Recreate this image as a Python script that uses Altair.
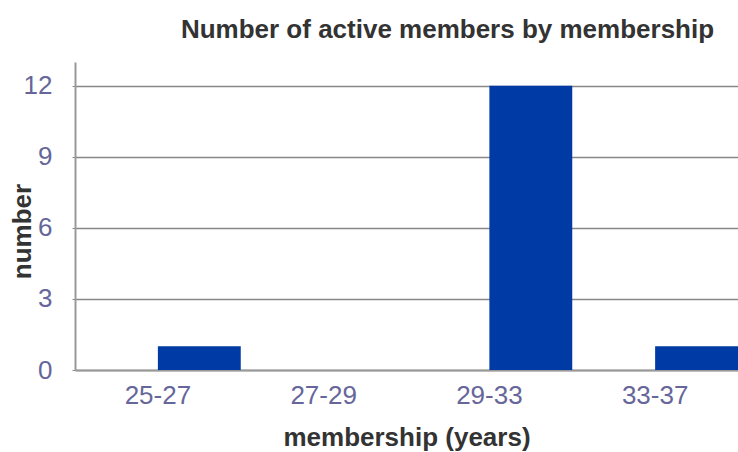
import altair as alt
import pandas as pd

categories = ["25-27", "27-29", "29-33", "33-37"]
counts = [1, 0, 12, 1]
y_ticks = [0, 3, 6, 9, 12]

df = pd.DataFrame({
    "membership": categories,
    "number": counts,
    "series": ["count"] * len(categories),
})

FONT = "Liberation Sans"
LABEL_COLOR = "#66669a"
TITLE_COLOR = "#333333"

chart = alt.Chart(df).mark_bar(color="#003aa5").encode(
    x=alt.X(
        "membership:N",
        sort=categories,
        scale=alt.Scale(domain=categories, paddingInner=0, paddingOuter=0),
        axis=alt.Axis(
            title="membership (years)",
            labelAngle=0,
            labelFont=FONT,
            labelFontSize=26,
            labelColor=LABEL_COLOR,
            labelPadding=12,
            ticks=False,
            domainColor="#999999",
            domainWidth=2,
            titleFont=FONT,
            titleFontSize=26,
            titleFontWeight="bold",
            titleColor=TITLE_COLOR,
            titleBaseline="alphabetic",
            titleY=75,
            grid=False,
        ),
    ),
    xOffset=alt.XOffset(
        "series:N",
        scale=alt.Scale(domain=["empty", "count"], paddingInner=0, paddingOuter=0),
    ),
    y=alt.Y(
        "number:Q",
        scale=alt.Scale(domain=[0, 13], nice=False),
        axis=alt.Axis(
            title="number",
            values=y_ticks,
            labelFont=FONT,
            labelFontSize=26,
            labelColor=LABEL_COLOR,
            labelPadding=20,
            tickSize=3,
            tickColor="#888888",
            domainColor="#999999",
            domainWidth=2,
            gridColor="#888888",
            gridWidth=1.5,
            titleFont=FONT,
            titleFontSize=26,
            titleFontWeight="bold",
            titleColor=TITLE_COLOR,
            titleAngle=-90,
            titleBaseline="alphabetic",
            titleX=-45,
            titleY=169,
        ),
    ),
).properties(
    width=663,
    height=308,
    autosize=alt.AutoSizeParams(type="none"),
    padding={"left": 75, "top": 62, "right": 0, "bottom": 82},
    title=alt.TitleParams(
        "Number of active members by membership",
        font=FONT,
        fontSize=26,
        fontWeight="bold",
        color=TITLE_COLOR,
        anchor="middle",
        dx=41,
        offset=19,
    ),
).configure_view(stroke=None)

chart.save("out.html", embed_options={"renderer": "svg", "actions": False})
